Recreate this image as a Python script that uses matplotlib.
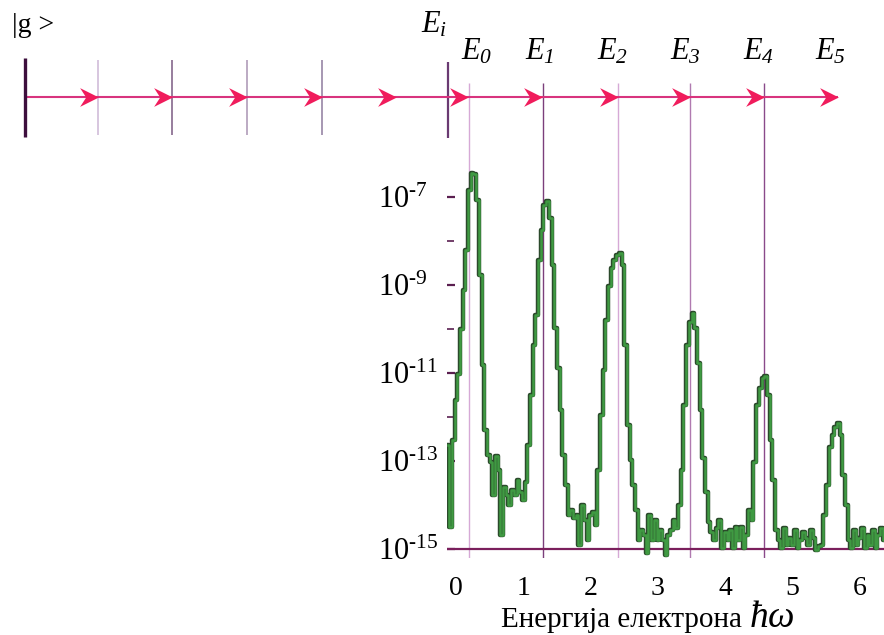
import numpy as np
import matplotlib
matplotlib.use('Agg')
import matplotlib.pyplot as plt
from matplotlib.path import Path
from matplotlib.ticker import FixedLocator, NullFormatter
import matplotlib.transforms as mtransforms

plt.rcParams['font.family'] = ['Liberation Serif', 'DejaVu Serif']
plt.rcParams['mathtext.fontset'] = 'custom'
plt.rcParams['mathtext.rm'] = 'Liberation Serif'
plt.rcParams['mathtext.it'] = 'Liberation Serif:italic'
plt.rcParams['mathtext.sf'] = 'Liberation Serif:italic'
plt.rcParams['mathtext.bf'] = 'Liberation Serif:bold'
plt.rcParams['mathtext.fallback'] = 'stix'

# ---------------- data ----------------
ground_level = -6.40                       # |g>
ladder_levels = [-5.32, -4.22, -3.10, -1.99]  # intermediate steps below E_i
ei_level = -0.12                           # ionisation threshold E_i
e_levels = [0.19, 1.29, 2.41, 3.48, 4.58]  # E0 .. E4 (lines)
e5_level = 5.68                            # E5 (end of arrow)
e_labels = [r'$E_{\mathsf{0}}$', r'$E_{\mathsf{1}}$', r'$E_{\mathsf{2}}$',
            r'$E_{\mathsf{3}}$', r'$E_{\mathsf{4}}$', r'$E_{\mathsf{5}}$']
arrow_tips = [-5.32, -4.22, -3.10, -1.99, -0.89, 0.19, 1.29, 2.41, 3.48, 4.58, 5.68]

energy = [-0.12, -0.08, -0.04, 0.00, 0.04, 0.08, 0.12, 0.16, 0.20, 0.24, 0.28, 0.32,
          0.36, 0.40, 0.44, 0.48, 0.52, 0.56, 0.60, 0.64, 0.68, 0.72, 0.76, 0.80,
          0.84, 0.88, 0.92, 0.96, 1.00, 1.04, 1.08, 1.12, 1.16, 1.20, 1.24, 1.28,
          1.32, 1.36, 1.40, 1.44, 1.48, 1.52, 1.56, 1.60, 1.64, 1.68, 1.72, 1.76,
          1.80, 1.84, 1.88, 1.92, 1.96, 2.00, 2.04, 2.08, 2.12, 2.16, 2.20, 2.24,
          2.28, 2.32, 2.36, 2.40, 2.44, 2.48, 2.52, 2.56, 2.60, 2.64, 2.68, 2.72,
          2.76, 2.80, 2.84, 2.88, 2.92, 2.96, 3.00, 3.04, 3.08, 3.12, 3.16, 3.20,
          3.24, 3.28, 3.32, 3.36, 3.40, 3.44, 3.48, 3.52, 3.56, 3.60, 3.64, 3.68,
          3.72, 3.76, 3.80, 3.84, 3.88, 3.92, 3.96, 4.00, 4.04, 4.08, 4.12, 4.16,
          4.20, 4.24, 4.28, 4.32, 4.36, 4.40, 4.44, 4.48, 4.52, 4.56, 4.60, 4.64,
          4.68, 4.72, 4.76, 4.80, 4.84, 4.88, 4.92, 4.96, 5.00, 5.04, 5.08, 5.12,
          5.16, 5.20, 5.24, 5.28, 5.32, 5.36, 5.40, 5.44, 5.48, 5.52, 5.56, 5.60,
          5.64, 5.68, 5.72, 5.76, 5.80, 5.84, 5.88, 5.92, 5.96, 6.00, 6.04, 6.08,
          6.12, 6.16, 6.20, 6.24, 6.28, 6.32, 6.36]

log_intensity = [-12.64, -14.50, -12.52, -11.61, -11.02, -10.00, -9.11, -8.20, -6.84, -6.45, -6.48, -7.07,
                 -8.77, -10.82, -12.30, -12.86, -13.02, -13.77, -12.89, -13.20, -14.68, -13.60, -13.77, -14.00,
                 -13.66, -13.77, -13.43, -13.70, -13.89, -13.48, -12.64, -11.50, -10.36, -9.68, -8.43, -7.75,
                 -7.18, -7.09, -7.48, -8.55, -9.98, -10.89, -11.84, -12.86, -13.55, -14.23, -14.11, -14.30,
                 -14.23, -14.91, -14.00, -14.34, -14.80, -14.23, -14.16, -14.45, -13.20, -11.95, -10.93, -9.80,
                 -9.02, -8.61, -8.43, -8.32, -8.27, -8.55, -10.36, -12.18, -12.98, -13.55, -14.11, -14.80,
                 -14.57, -14.68, -15.09, -14.23, -14.80, -14.34, -14.80, -14.57, -14.80, -15.14, -14.68, -14.57,
                 -14.34, -14.52, -14.00, -13.20, -11.73, -10.36, -9.84, -9.64, -9.98, -10.77, -11.84, -12.93,
                 -13.70, -14.39, -14.61, -14.80, -14.52, -14.34, -14.98, -14.61, -14.80, -14.57, -14.98, -14.50,
                 -14.80, -14.50, -14.98, -14.68, -14.11, -14.34, -13.02, -11.73, -11.34, -11.11, -11.07, -11.50,
                 -12.52, -13.43, -14.57, -14.80, -14.98, -14.52, -14.91, -14.75, -14.91, -14.57, -14.98, -14.80,
                 -14.61, -14.75, -14.91, -14.57, -14.75, -15.02, -14.93, -14.91, -14.23, -13.55, -12.68, -12.41,
                 -12.23, -12.14, -12.41, -13.32, -14.00, -14.80, -14.98, -14.57, -14.91, -14.75, -14.52, -14.98,
                 -14.68, -14.91, -14.57, -14.98, -14.68, -14.52, -14.80]

xticks = [0, 1, 2, 3, 4, 5, 6]
ytick_exp = [-7, -9, -11, -13, -15]
yminor_exp = [-8, -10, -12]
baseline = 1e-15

# ---------------- layout ----------------
W, H = 884, 635
PX = 67.3  # pixels per energy unit
fig = plt.figure(figsize=(W / 100, H / 100), dpi=100)

# top schematic axes (y in pixel-like units, inverted)
ax_top = fig.add_axes([0, (H - 140) / H, 1, 140 / H])
ax_top.set_xlim(-456 / PX, 428 / PX)
ax_top.set_ylim(140, 0)
ax_top.axis('off')

# spectrum axes
ax = fig.add_axes([447 / W, (H - 558) / H, 437 / W, 418 / H])
ax.set_xlim((447 - 456) / PX, 428 / PX)
ax.set_yscale('log')
ax.set_ylim(10 ** -15.205, 10 ** -5.705)

# ---------------- schematic ----------------
LINE_Y = 97
line_col = '#d8347e'
ax_top.plot([ground_level, e5_level], [LINE_Y, LINE_Y], color=line_col, lw=1.5, zorder=2,
            solid_capstyle='butt')
ax_top.vlines(ground_level, 58, 137, color='#3d0f3d', lw=2.4, zorder=3)
ladder_cols = ['#cdb6d6', '#7a5a82', '#a993b3', '#8e7a9e']
for lv, c in zip(ladder_levels, ladder_cols):
    ax_top.vlines(lv, 60, 135, color=c, lw=1.1, zorder=1)
ax_top.vlines(ei_level, 62, 138, color='#6a3a72', lw=1.6, zorder=1)

e_cols = ['#d6a9d6', '#7b3f7b', '#d6a9d6', '#b07ab0', '#8a4a8a']
for lv, c in zip(e_levels, e_cols):
    ax_top.vlines(lv, 83, 140, color=c, lw=1.0, zorder=1)
    ax.axvline(lv, color=c, lw=1.0, zorder=1)

# arrowheads (notched)
verts = [(-1, 1), (1, 0), (-1, -1), (-0.35, 0), (-1, 1)]
codes = [Path.MOVETO, Path.LINETO, Path.LINETO, Path.LINETO, Path.CLOSEPOLY]
head = Path(verts, codes)
ms = 13.5
trans = mtransforms.offset_copy(ax_top.transData, fig=fig, x=-ms / 2, units='points')
ax_top.plot(arrow_tips, [LINE_Y] * len(arrow_tips), linestyle='none', marker=head,
            markersize=ms, color='#f01c5c', markeredgewidth=0, transform=trans, zorder=4)

# labels
ax_top.text(ground_level - 0.19, 25, '|g >', ha='left', va='center', fontsize=20)
ax_top.text(ei_level - 0.2, 25, r'$E_i$', ha='center', va='center', fontsize=22)
label_shift = [0.12, -0.05, -0.08, -0.07, -0.09, -0.12]
for lv, lab, sh in zip(e_levels + [e5_level], e_labels, label_shift):
    ax_top.text(lv + sh, 52, lab, ha='center', va='center', fontsize=22)

# ---------------- spectrum ----------------
inten = 10.0 ** np.array(log_intensity)
ax.axhline(baseline, color='#7a1f5c', lw=1.6, zorder=2)
ax.step(energy, inten, where='mid', color='#2c4a2c', lw=3.2, zorder=3)
ax.step(energy, inten, where='mid', color='#3f9a42', lw=1.8, zorder=4)

for s in ax.spines.values():
    s.set_visible(False)

ax.yaxis.set_major_locator(FixedLocator([10.0 ** e for e in ytick_exp]))
ax.yaxis.set_minor_locator(FixedLocator([10.0 ** e for e in yminor_exp]))
ax.yaxis.set_minor_formatter(NullFormatter())
ax.set_yticklabels(['$10^{\u2010%d}$' % (-e) for e in ytick_exp], ha='left')
ax.tick_params(axis='y', which='major', direction='in', length=6, width=1.6,
               color='#5a1f50', pad=50, labelsize=22)
ax.tick_params(axis='y', which='minor', direction='in', length=5, width=1.2,
               color='#5a1f50')

ax.set_xticks(xticks)
ax.set_xticklabels([str(t) for t in xticks])
ax.tick_params(axis='x', length=0, pad=13, labelsize=20)

ax.set_xlabel('Енергија електрона', fontsize=21)
ax.xaxis.label.set_va('baseline')
ax.xaxis.set_label_coords(0.399, -0.165)
ax.annotate(r'$\hbar\omega$', xy=(1, 0), xycoords=ax.xaxis.label, xytext=(5, 4.5),
            textcoords='offset points', ha='left', va='baseline', fontsize=27)

fig.savefig('out.png', dpi=100)
